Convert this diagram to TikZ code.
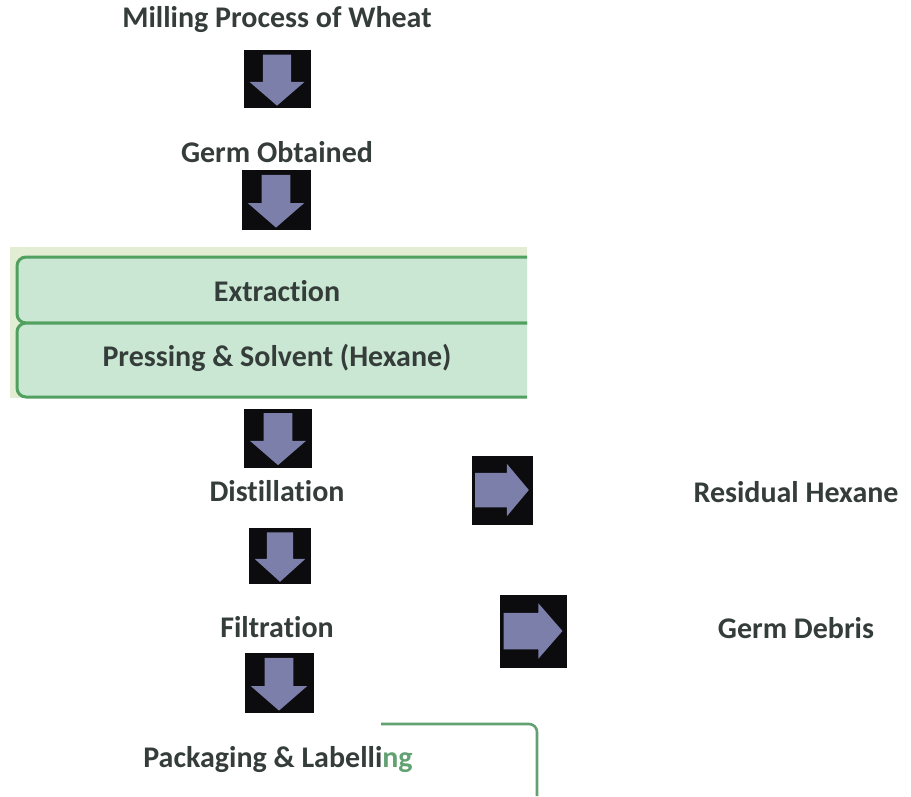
\documentclass[tikz,border=0pt]{standalone}
\usepackage{fontspec}
\setmainfont{Carlito}[Ligatures=NoCommon]
\definecolor{txtgray}{HTML}{353D3A}
\definecolor{iconbg}{HTML}{0C0C0E}
\definecolor{iconfg}{HTML}{7B7FAA}
\definecolor{panelbg}{HTML}{E2EDD3}
\definecolor{boxfill}{HTML}{C9E7D3}
\definecolor{boxline}{HTML}{52A060}
\definecolor{leafgreen}{HTML}{62A272}
\tikzset{
  label/.style={font=\bfseries\fontsize{30}{34}\selectfont, text=txtgray, inner sep=0pt},
  stagebox/.style={draw=boxline, line width=3pt, fill=boxfill, rounded corners=9pt}
}
\begin{document}
\begin{tikzpicture}[x=1pt, y=-1pt, line join = round]
\useasboundingbox (0,0) rectangle (911,796);

% process labels
\node [label] (mill)    at (277,20)  {Milling Process of Wheat};
\node [label] (germ)    at (277,152) {Germ Obtained};
\node [label] (distil)  at (277,491) {Distillation};
\node [label] (filt)    at (277,627) {Filtration};
\node [label] (hexane)  at (796,492) {Residual Hexane};
\node [label] (debris)  at (796,628) {Germ Debris};
\node [label] (pack)    at (278,760) {Packaging \& Labelli\textcolor{leafgreen}{ng}};

% extraction panel
\begin{scope}
  \clip (10,247) rectangle (527,398);
  \fill [panelbg] (10,247) rectangle (527,398);
  \draw [stagebox] (17,257) rectangle (560,323);
  \draw [stagebox] (17,323) rectangle (560,397);
\end{scope}
\node [label] (extr)  at (277,291) {Extraction};
\node [label] (press) at (277,358) {Pressing \& Solvent (Hexane)};

% down arrow icons
\foreach \cx/\cy/\w/\h in {277/79/67/58, 276/200/69/60, 278/438/68/59, 280/556/62/56, 279/683/69/60} {
  \fill [iconbg] (\cx-\w/2,\cy-\h/2) rectangle (\cx+\w/2,\cy+\h/2);
  \fill [iconfg] (\cx-0.21*\w,\cy-0.42*\h) -- (\cx+0.21*\w,\cy-0.42*\h)
        -- (\cx+0.21*\w,\cy+0.05*\h) -- (\cx+0.41*\w,\cy+0.05*\h)
        -- (\cx,\cy+0.46*\h) -- (\cx-0.41*\w,\cy+0.05*\h)
        -- (\cx-0.21*\w,\cy+0.05*\h) -- cycle;
}

% right arrow icons
\foreach \cx/\cy/\w/\h in {502/490/61/69, 533/631/67/73} {
  \fill [iconbg] (\cx-\w/2,\cy-\h/2) rectangle (\cx+\w/2,\cy+\h/2);
  \fill [iconfg] (\cx-0.44*\w,\cy-0.25*\h) -- (\cx+0.08*\w,\cy-0.25*\h)
        -- (\cx+0.08*\w,\cy-0.38*\h) -- (\cx+0.44*\w,\cy)
        -- (\cx+0.08*\w,\cy+0.38*\h) -- (\cx+0.08*\w,\cy+0.25*\h)
        -- (\cx-0.44*\w,\cy+0.25*\h) -- cycle;
}

% bracket round the last stage
\coordinate (brkA) at (381,724);
\coordinate (brkB) at (537,796);
\draw [leafgreen, line width=2.6pt, rounded corners=8pt] (brkA) -| (brkB);

\end{tikzpicture}
\end{document}
